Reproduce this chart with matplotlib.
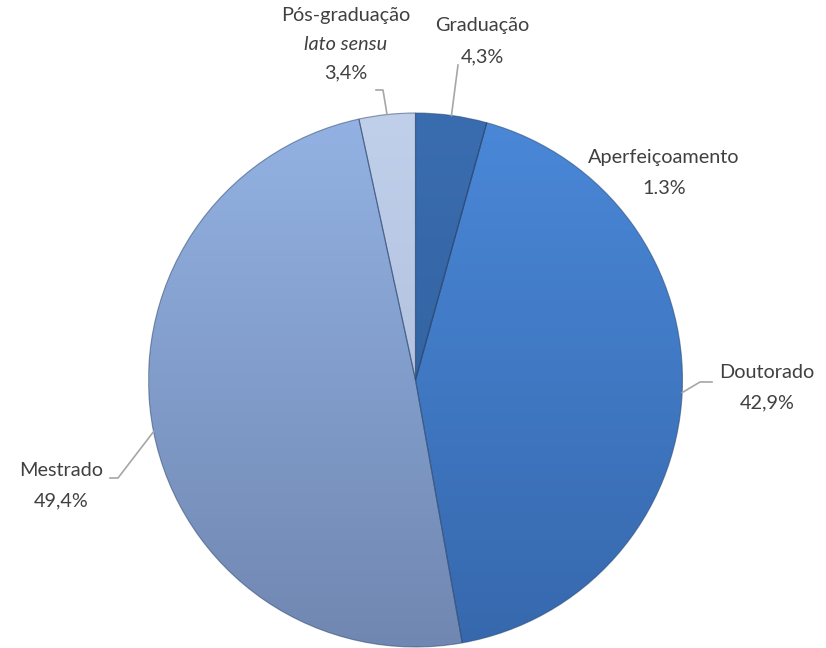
import numpy as np
import matplotlib.pyplot as plt
from matplotlib.colors import LinearSegmentedColormap

# Chart data (clockwise from 12 o'clock)
categories = ['Graduação', 'Aperfeiçoamento', 'Doutorado', 'Mestrado', 'Pós-graduação']
values = [4.3, 0.0, 42.9, 49.4, 3.4]
pct_labels = ['4,3%', '1.3%', '42,9%', '49,4%', '3,4%']

# vertical gradient per slice (top colour, bottom colour)
top_colors = ['#3a6db0', '#4a88d8', '#4a88d8', '#93b2e3', '#c0cfea']
bottom_colors = ['#2d5b96', '#3667ac', '#3668ad', '#7087b1', '#a7b7d6']

W, H = 826, 648
fig = plt.figure(figsize=(W / 100, H / 100), dpi=100)
ax = fig.add_axes([0, 0, 1, 1])

cx, cy, r = 415.5, H - 380, 267

wedges, _ = ax.pie(values, startangle=90, counterclock=False,
                   center=(cx, cy), radius=r,
                   wedgeprops=dict(facecolor='none', edgecolor='#2b4670',
                                   linewidth=0.8, alpha=0.55))

grad = np.linspace(0, 1, 256).reshape(-1, 1)
for w, c0, c1, v in zip(wedges, top_colors, bottom_colors, values):
    w.set_zorder(3)
    if v <= 0:
        continue
    cmap = LinearSegmentedColormap.from_list('g', [c0, c1])
    im = ax.imshow(grad, extent=(cx - r, cx + r, cy - r, cy + r), origin='upper',
                   cmap=cmap, aspect='auto', zorder=2, interpolation='bilinear')
    im.set_clip_path(w)

ax.set_xlim(0, W)
ax.set_ylim(0, H)
ax.set_aspect('equal')
ax.axis('off')

plt.rcParams['font.family'] = ['Lato', 'DejaVu Sans']
txt = dict(fontsize=14.3, color='#404040', ha='center', va='center')
line_col = '#a6a6a6'

# label anchor positions (pixels from top-left) and leader elbows
label_pos = {
    'Graduação': (482, 26),
    'Aperfeiçoamento': (664, 158),
    'Doutorado': (767, 372),
    'Mestrado': (61, 470),
    'Pós-graduação': (346, 16),
}
elbows = {
    'Graduação': [(458, 65)],
    'Doutorado': [(712, 382), (700, 382)],
    'Mestrado': [(110, 478), (118, 478)],
    'Pós-graduação': [(376, 90), (383, 90)],
}

cum = np.cumsum([0] + values[:-1])
total = sum(values)
for cat, pct, v, c in zip(categories, pct_labels, values, cum):
    x, y = label_pos[cat]
    if cat == 'Pós-graduação':
        ax.text(x, H - y, cat, **txt)
        ax.text(x, H - y - 29, 'lato sensu', style='italic', **txt)
        ax.text(x, H - y - 57, pct, **txt)
    else:
        ax.text(x, H - y, cat, **txt)
        ax.text(x, H - y - 31, pct, **txt)
    if cat in elbows and v > 0:
        ang = np.deg2rad(90 - 360 * (c + v / 2) / total)
        px, py = cx + r * np.cos(ang), cy + r * np.sin(ang)
        pts = [(ex, H - ey) for ex, ey in elbows[cat]] + [(px, py)]
        xs, ys = zip(*pts)
        ax.plot(xs, ys, color=line_col, lw=1.2, zorder=4)

fig.savefig('out.png', dpi=100, facecolor='white')
